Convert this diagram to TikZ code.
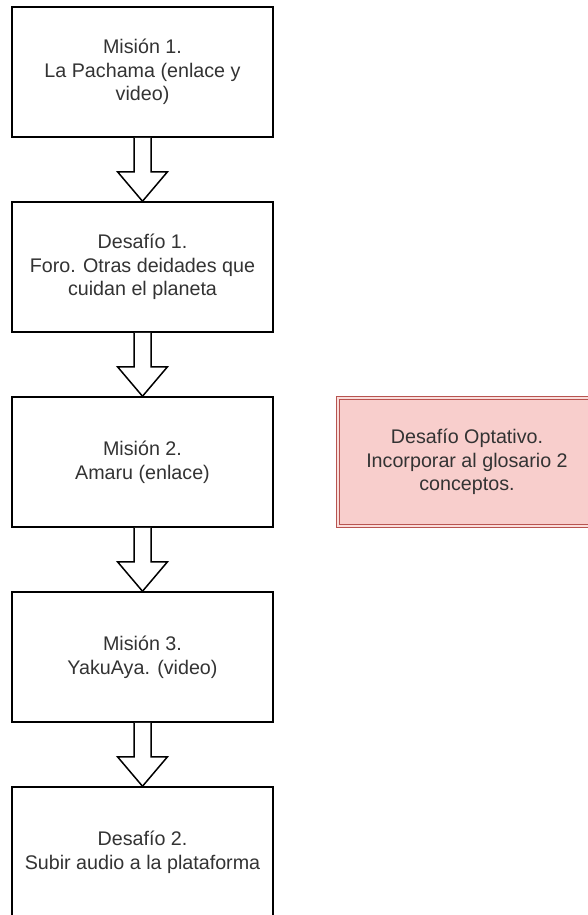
\documentclass[tikz,border=0pt]{standalone}
\usepackage{fontspec}
\setmainfont{Liberation Sans}
\usetikzlibrary{calc}
\definecolor{txt}{HTML}{333333}
\definecolor{optfill}{HTML}{F8CECC}
\definecolor{optline}{HTML}{B85450}
\tikzset{
  stagebox/.style={draw=black, line width=1.5pt, fill=white, text=txt,
    minimum width=261pt, minimum height=130pt, inner sep=0pt,
    align=center, font=\fontsize{19.7}{23.6}\selectfont},
  optbox/.style={stagebox, draw=optline, line width=0.9pt, fill=optfill,
    double=optfill!70!white, double distance=1.4pt, minimum width=258pt, minimum height=128pt},
  blockarrow/.style={draw=black, line width=1.5pt, fill=white, line join=miter}
}
% hollow block arrow from the bottom of one box to the top of the next
\newcommand{\stagearrow}[2]{%
  \draw[blockarrow] ($(#1.south)+(-8.5,0)$) -- ($(#1.south)+(-8.5,34)$)
    -- ($(#1.south)+(-25,34)$) -- (#2.north) -- ($(#1.south)+(25,34)$)
    -- ($(#1.south)+(8.5,34)$) -- ($(#1.south)+(8.5,0)$);}
\begin{document}
\begin{tikzpicture}[x=1pt, y=-1pt]
  \useasboundingbox (0,0) rectangle (587,915);
  \node[stagebox] (m1) at (142.5,72)  {Misión 1.\\La Pachama (enlace y\\video)};
  \node[stagebox] (d1) at (142.5,267) {Desafío 1.\\Foro. Otras deidades que\\cuidan el planeta};
  \node[stagebox] (m2) at (142.5,462) {Misión 2.\\Amaru (enlace)};
  \node[stagebox] (m3) at (142.5,657) {Misión 3.\\YakuAya. (video)};
  \node[stagebox] (d2) at (142.5,852) {Desafío 2.\\Subir audio a la plataforma};
  \node[optbox] (opt) at (467,462) {Desafío Optativo.\\Incorporar al glosario 2\\conceptos.};
  \stagearrow{m1}{d1}
  \stagearrow{d1}{m2}
  \stagearrow{m2}{m3}
  \stagearrow{m3}{d2}
\end{tikzpicture}
\end{document}
